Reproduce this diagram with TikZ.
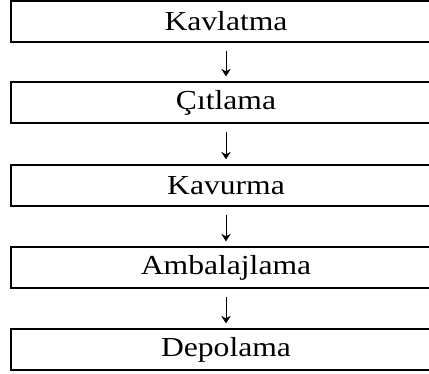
\documentclass[tikz,border=0pt]{standalone}
\usepackage{fontspec}
\usepackage{graphicx}
\setmainfont{Liberation Serif}
\usetikzlibrary{arrows.meta}

% the source text is a bit wider than plain Times
\newcommand{\widetext}[1]{\scalebox{1.15}[1]{#1}}

\tikzset{
  stepbox/.style={draw,line width=1.3pt,minimum width=430pt,minimum height=41pt,
    inner sep=0pt,font=\fontsize{27.5}{30}\selectfont},
  flowarrow/.style={line width=0.9pt,-{Stealth[length=7.5pt,width=9.5pt,inset=2.5pt]},
    shorten <=8pt,shorten >=5pt}
}

\begin{document}
\begin{tikzpicture}[x=1pt,y=-1pt]
    \clip (0,0) rectangle (429,374);

    \node[stepbox] (kavlatma) at (226,21.5) {\widetext{Kavlatma}};
    \node[stepbox] (citlama) at (226,102.5) {\widetext{Çıtlama}};
    \node[stepbox] (kavurma) at (226,185.5) {\widetext{Kavurma}};
    \node[stepbox] (ambalaj) at (226,267.5) {\widetext{Ambalajlama}};
    \node[stepbox] (depolama) at (226,349.5) {\widetext{Depolama}};

    \draw[flowarrow] (kavlatma) -- (citlama);
    \draw[flowarrow] (citlama) -- (kavurma);
    \draw[flowarrow] (kavurma) -- (ambalaj);
    \draw[flowarrow] (ambalaj) -- (depolama);
  \end{tikzpicture}
\end{document}
